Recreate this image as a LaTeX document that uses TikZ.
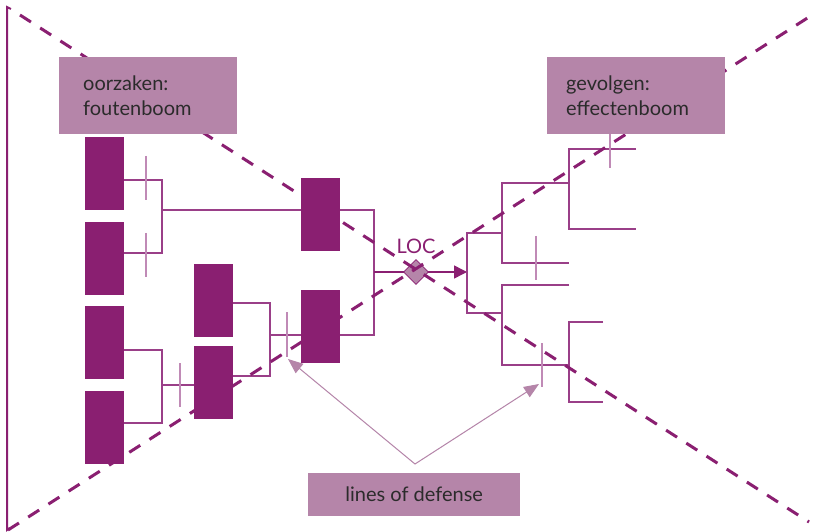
\documentclass[tikz,border=0pt]{standalone}
\usepackage{fontspec}
\setmainfont{Lato}
\usepackage{xcolor}
\usetikzlibrary{arrows.meta,shapes.geometric}
\definecolor{plum}{HTML}{8A1F71}
\definecolor{plumline}{HTML}{9A3F88}
\definecolor{mauve}{HTML}{B585A9}
\definecolor{lilac}{HTML}{C08AB6}
\definecolor{ink}{HTML}{2B2B2B}

\begin{document}
\begin{tikzpicture}[x=1pt,y=-1pt,
    cause/.style={fill=plum,minimum width=39pt,minimum height=73pt,inner sep=0pt},
    link/.style={draw=plumline,line width=1.3pt},
    barrier/.style={draw=lilac,line width=1.3pt},
    cutline/.style={draw=plum,line width=3pt,dash pattern=on 13pt off 11pt},
    tag/.style={fill=mauve,text=ink,font=\fontsize{20}{25}\selectfont,inner ysep=0pt},
    guide/.style={draw=mauve,line width=1pt,{Triangle[length=15pt,width=12pt]}-{Triangle[length=15pt,width=12pt]}}]
        \fill[white] (0,0) rectangle (815,532);
        \useasboundingbox (0,0) rectangle (815,532);

        % foutenboom
        \node[cause] (f1) at (104.5,173.5) {};
        \node[cause] (f2) at (104.5,258.5) {};
        \node[cause] (f3) at (104.5,342.5) {};
        \node[cause] (f4) at (104.5,427.5) {};
        \node[cause] (m1) at (213.5,300.5) {};
        \node[cause] (m2) at (213.5,382.5) {};
        \node[cause] (t1) at (320.5,214.5) {};
        \node[cause] (t2) at (320.5,326.5) {};

        \coordinate (jA) at (162,210);
        \coordinate (jB) at (162,385);
        \coordinate (jC) at (270,335);
        \coordinate (jD) at (374,272);
        \coordinate (top) at (467,272);

        \draw[link] ([yshift=-6.5]f1.east) -| (jA) |- ([yshift=5.5]f2.east);
        \draw[link] (jA) -- (jA -| t1.west);
        \draw[link] ([yshift=-7.5]f3.east) -| (jB) |- ([yshift=4.5]f4.east);
        \draw[link] (jB) -- (jB -| m2.west);
        \draw[link] ([yshift=-2.5]m1.east) -| (jC) |- ([yshift=6.5]m2.east);
        \draw[link] (jC) -- (jC -| t2.west);
        \draw[link] ([yshift=4.5]t1.east) -| (jD) |- ([yshift=-8.5]t2.east);
        \draw[draw=plum,line width=1.5pt,-{Triangle[length=13pt,width=13pt]}] (jD) -- (top);

        % effectenboom
        \draw[link] (502,233) -| (top) |- (502,313);
        \draw[link] (569,183) -| (502,233) |- (569,263);
        \draw[link] (569,285) -| (502,313) |- (569,365);
        \draw[link] (636,149) -| (569,183) |- (636,229);
        \draw[link] (603,322) -| (569,365) |- (603,402);

        % lines of defense
        \draw[barrier] (146,156) -- (146,200);
        \draw[barrier] (146,233) -- (146,277);
        \draw[barrier] (180,363) -- (180,407);
        \draw[barrier] (287,312) -- (287,357);
        \draw[barrier] (610,134) -- (610,168);
        \draw[barrier] (536,236) -- (536,280);
        \draw[barrier] (542,343) -- (542,387);

        \node[diamond,fill=mauve,draw=plum,line width=0.8pt,minimum size=25pt,inner sep=0pt] (loc) at (416,272) {};
        \node[text=plum,font=\fontsize{20}{24}\selectfont] (loclabel) at (416,246) {LOC};

        \draw[draw=plum,line width=2pt] (11,9) -- (7,7) -- (7,530) -- (10,528);
        \draw[cutline] (20,15) -- (809,522);
        \draw[cutline] (8,530) -- (809,17);

        \node[tag,anchor=north west,text width=130pt,align=left,inner xsep=24pt,minimum height=77pt] (causes) at (59,57) {oorzaken:\\foutenboom};
        \node[tag,anchor=north west,text width=140pt,align=left,inner xsep=19pt,minimum height=77pt] (effects) at (547,57) {gevolgen:\\effectenboom};
        \node[tag,anchor=north west,minimum width=212pt,minimum height=43pt] (defense) at (308,473) {lines of defense};

        \coordinate (apex) at (415,464);
        \coordinate (d1) at (288,359);
        \coordinate (d2) at (539,384);
        \draw[guide] (d1) -- (apex) -- (d2);
    \end{tikzpicture}
\end{document}
